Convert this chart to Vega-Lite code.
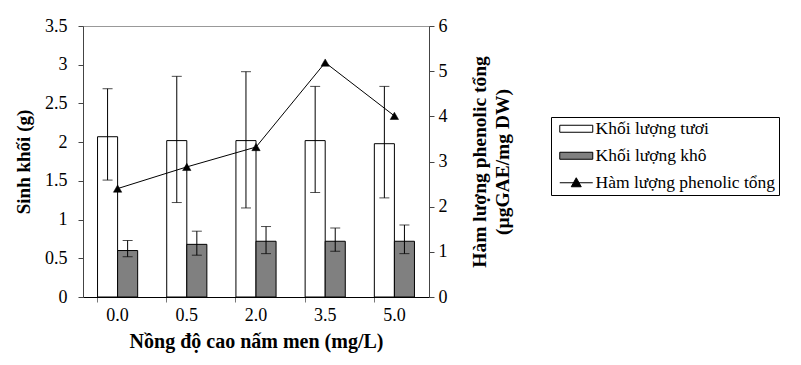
{
  "$schema": "https://vega.github.io/schema/vega-lite/v6.json",
  "width": 346,
  "height": 271,
  "autosize": {"type": "none"},
  "padding": {"left": 83, "top": 26, "right": 372, "bottom": 68},
  "background": "white",
  "config": {
    "font": "Liberation Serif, Times New Roman, serif",
    "view": {"stroke": "#999999", "strokeWidth": 1},
    "text": {"font": "Liberation Serif, Times New Roman, serif"},
    "legend": {"labelFont": "Liberation Serif, Times New Roman, serif"},
    "axis": {"labelFont": "Liberation Serif, Times New Roman, serif", "titleFont": "Liberation Serif, Times New Roman, serif", "labelColor": "black", "titleColor": "black", "grid": false, "labelFontSize": 18, "titleFontSize": 17, "titleFontWeight": "bold"}
  },
  "datasets": {
    "bars": [
      {"dose": "0.0", "series": "Khối lượng tươi", "mean": 2.07, "lo": 1.51, "hi": 2.69},
      {"dose": "0.5", "series": "Khối lượng tươi", "mean": 2.02, "lo": 1.22, "hi": 2.85},
      {"dose": "2.0", "series": "Khối lượng tươi", "mean": 2.02, "lo": 1.15, "hi": 2.91},
      {"dose": "3.5", "series": "Khối lượng tươi", "mean": 2.02, "lo": 1.35, "hi": 2.72},
      {"dose": "5.0", "series": "Khối lượng tươi", "mean": 1.98, "lo": 1.28, "hi": 2.72},
      {"dose": "0.0", "series": "Khối lượng khô", "mean": 0.60, "lo": 0.52, "hi": 0.73},
      {"dose": "0.5", "series": "Khối lượng khô", "mean": 0.68, "lo": 0.54, "hi": 0.85},
      {"dose": "2.0", "series": "Khối lượng khô", "mean": 0.72, "lo": 0.56, "hi": 0.91},
      {"dose": "3.5", "series": "Khối lượng khô", "mean": 0.72, "lo": 0.59, "hi": 0.89},
      {"dose": "5.0", "series": "Khối lượng khô", "mean": 0.72, "lo": 0.56, "hi": 0.93}
    ],
    "line": [
      {"dose": "0.0", "series": "Hàm lượng phenolic tổng", "phenolic": 2.40},
      {"dose": "0.5", "series": "Hàm lượng phenolic tổng", "phenolic": 2.88},
      {"dose": "2.0", "series": "Hàm lượng phenolic tổng", "phenolic": 3.32},
      {"dose": "3.5", "series": "Hàm lượng phenolic tổng", "phenolic": 5.19},
      {"dose": "5.0", "series": "Hàm lượng phenolic tổng", "phenolic": 4.01}
    ]
  },
  "encoding": {
    "x": {
      "field": "dose", "type": "nominal", "sort": ["0.0", "0.5", "2.0", "3.5", "5.0"],
      "scale": {"paddingInner": 0.42, "paddingOuter": 0.21},
      "axis": {"title": "Nồng độ cao nấm men (mg/L)", "titleFontSize": 20, "labelAngle": 0, "bandPosition": 0, "domainColor": "black", "tickColor": "#777777", "tickSize": 5, "labelPadding": 4, "titlePadding": 7}
    }
  },
  "layer": [
    {
      "data": {"name": "bars"},
      "encoding": {
        "xOffset": {"field": "series", "type": "nominal", "sort": ["Khối lượng tươi", "Khối lượng khô"], "scale": {"paddingInner": 0, "paddingOuter": 0}},
        "y": {"type": "quantitative", "scale": {"domain": [0, 3.5]}, "axis": {"title": "Sinh khối (g)", "titleFontSize": 19, "values": [0, 0.5, 1, 1.5, 2, 2.5, 3, 3.5], "format": "~g", "domainColor": "#444444", "tickColor": "#444444", "tickSize": 5, "labelPadding": 11, "titlePadding": 11}}
      },
      "layer": [
        {
          "mark": {"type": "bar", "stroke": "black", "strokeWidth": 1},
          "encoding": {
            "y": {"field": "mean", "type": "quantitative"},
            "fill": {"field": "series", "type": "nominal", "scale": {"domain": ["Khối lượng tươi", "Khối lượng khô", "Hàm lượng phenolic tổng"], "range": ["white", "#808080", "black"]},
              "legend": {
                "title": null, "orient": "none", "legendX": 468, "legendY": 91,
                "strokeColor": "black", "fillColor": "white", "padding": 3,
                "labelFont": "Liberation Serif, Times New Roman, serif", "labelFontSize": 17.5, "labelColor": "black", "labelOffset": 24, "labelLimit": 0,
                "symbolSize": 100, "symbolStrokeColor": "black", "symbolStrokeWidth": 1, "rowPadding": 8,
                "encode": {"symbols": {"update": {
                  "shape": {"signal": "datum.value === 'Hàm lượng phenolic tổng' ? 'M-0.6,0H6M1.7,0.8L2.7,-1L3.7,0.8Z' : 'M-0.6,-0.7H6V0.7H-0.6Z'"},
                  "stroke": {"value": "black"}, "strokeWidth": {"value": 1}
                }}}
              }
            }
          }
        },
        {
          "mark": {"type": "rule", "color": "black", "strokeWidth": 1},
          "encoding": {"y": {"field": "lo", "type": "quantitative"}, "y2": {"field": "hi"}}
        },
        {
          "mark": {"type": "tick", "color": "black", "thickness": 1, "size": 10},
          "encoding": {"y": {"field": "lo", "type": "quantitative"}}
        },
        {
          "mark": {"type": "tick", "color": "black", "thickness": 1, "size": 10},
          "encoding": {"y": {"field": "hi", "type": "quantitative"}}
        }
      ]
    },
    {
      "data": {"name": "line"},
      "encoding": {
        "y": {"field": "phenolic", "type": "quantitative", "scale": {"domain": [0, 6]}, "axis": {"orient": "right", "title": ["Hàm lượng phenolic tổng", "(µgGAE/mg DW)"], "titleFontSize": 19.5, "titleLineHeight": 23, "titleAngle": -90, "titleBaseline": "top", "values": [0, 1, 2, 3, 4, 5, 6], "domainColor": "#444444", "tickColor": "#444444", "tickSize": 5, "labelPadding": 4, "titlePadding": 0}}
      },
      "layer": [
        {"mark": {"type": "line", "color": "black", "strokeWidth": 1}},
        {"mark": {"type": "point", "shape": "triangle-up", "size": 70, "filled": true, "opacity": 1, "stroke": "black", "strokeWidth": 0.5},
         "encoding": {"fill": {"field": "series", "type": "nominal"}}}
      ]
    }
  ],
  "resolve": {"scale": {"y": "independent"}}
}
